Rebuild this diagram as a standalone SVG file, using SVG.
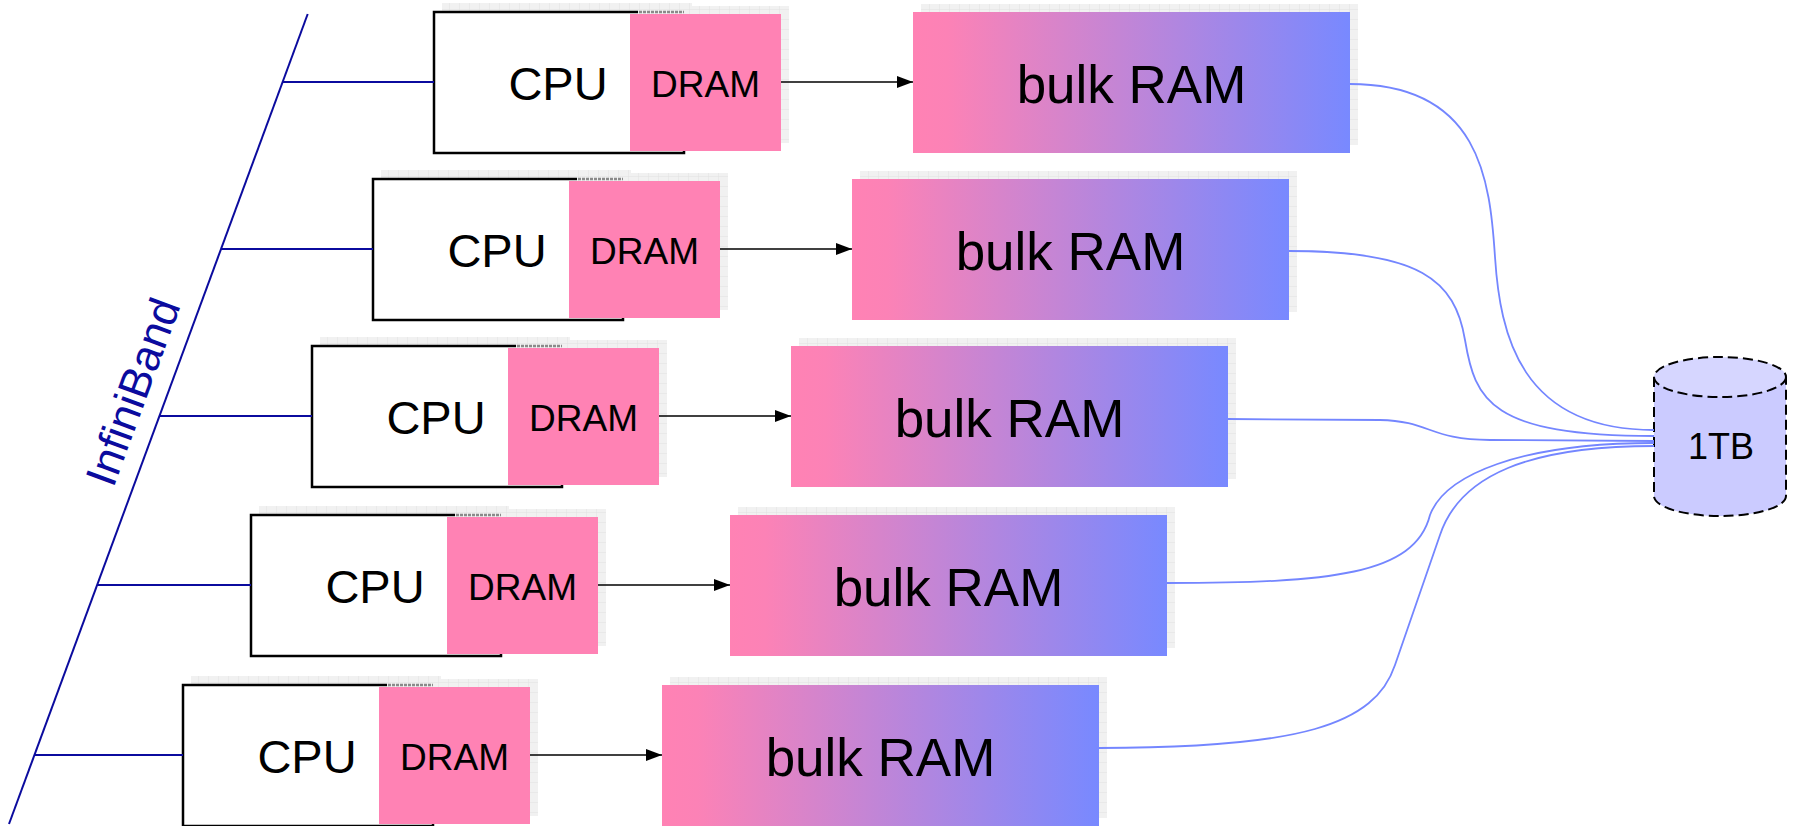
<svg xmlns="http://www.w3.org/2000/svg" width="1797" height="826" viewBox="0 0 1797 826">
<style>
.cpu{fill:#ffffff;stroke:#000000;stroke-width:2.5}
.dram{fill:#ff82b4}
.bulk{fill:url(#bulkGrad)}
.shadow{fill:url(#grid)}
.t{font-family:"Liberation Sans",Arial,sans-serif;fill:#000000;text-anchor:middle}
.cpuT{font-size:47px}
.dramT{font-size:37px}
.bulkT{font-size:53px}
.bus{stroke:#0b0b9e;stroke-width:2;fill:none}
.arrow{stroke:#000000;stroke-width:1.6;fill:none;marker-end:url(#ah)}
.curve{stroke:#7486ff;stroke-width:1.8;fill:none}
.seam{stroke:#8a8a8a;stroke-width:2.5;stroke-dasharray:3 1}
</style>
<defs>
<linearGradient id="bulkGrad" x1="0" y1="0" x2="1" y2="0">
<stop offset="0" stop-color="#ff82b4"/>
<stop offset="0.08" stop-color="#fc82b6"/>
<stop offset="1" stop-color="#7889ff"/>
</linearGradient>
<pattern id="grid" width="10" height="10" patternUnits="userSpaceOnUse">
<rect width="10" height="10" fill="#f1f1f1"/>
<path d="M10,0V10M0,10H10" stroke="#e2e2e2" stroke-width="1"/>
</pattern>
<marker id="ah" markerWidth="16" markerHeight="12" refX="16" refY="6" orient="auto" markerUnits="userSpaceOnUse">
<path d="M0,0L16,6L0,12Z" fill="#000000"/>
</marker>
</defs>

<g id="infiniband">
<line class="bus" x1="307.7" y1="14" x2="9" y2="824"/>
<text transform="translate(147,397) rotate(-69.76)" style="font-family:'Liberation Sans',Arial,sans-serif;font-size:44px;fill:#0b0b9e;text-anchor:middle">InfiniBand</text>
</g>

<g id="row1">
<g id="cpu1"><rect class="shadow" x="442" y="3" width="250" height="141"/><rect class="cpu" x="434" y="12" width="250" height="141"/><text class="t cpuT" x="558" y="100">CPU</text></g>
<g id="dram1"><rect class="shadow" x="638" y="6" width="151" height="137"/><line class="seam" x1="639" y1="12" x2="684" y2="12"/><rect class="dram" x="630" y="14" width="151" height="137"/><text class="t dramT" x="705.5" y="97">DRAM</text></g>
<g id="bulk1"><rect class="shadow" x="921" y="4" width="437" height="141"/><rect class="bulk" x="913" y="12" width="437" height="141"/><text class="t bulkT" x="1131.5" y="103">bulk RAM</text></g>
</g>

<g id="row2" transform="translate(-61,167)">
<g id="cpu2"><rect class="shadow" x="442" y="3" width="250" height="141"/><rect class="cpu" x="434" y="12" width="250" height="141"/><text class="t cpuT" x="558" y="100">CPU</text></g>
<g id="dram2"><rect class="shadow" x="638" y="6" width="151" height="137"/><line class="seam" x1="639" y1="12" x2="684" y2="12"/><rect class="dram" x="630" y="14" width="151" height="137"/><text class="t dramT" x="705.5" y="97">DRAM</text></g>
<g id="bulk2"><rect class="shadow" x="921" y="4" width="437" height="141"/><rect class="bulk" x="913" y="12" width="437" height="141"/><text class="t bulkT" x="1131.5" y="103">bulk RAM</text></g>
</g>

<g id="row3" transform="translate(-122,334)">
<g id="cpu3"><rect class="shadow" x="442" y="3" width="250" height="141"/><rect class="cpu" x="434" y="12" width="250" height="141"/><text class="t cpuT" x="558" y="100">CPU</text></g>
<g id="dram3"><rect class="shadow" x="638" y="6" width="151" height="137"/><line class="seam" x1="639" y1="12" x2="684" y2="12"/><rect class="dram" x="630" y="14" width="151" height="137"/><text class="t dramT" x="705.5" y="97">DRAM</text></g>
<g id="bulk3"><rect class="shadow" x="921" y="4" width="437" height="141"/><rect class="bulk" x="913" y="12" width="437" height="141"/><text class="t bulkT" x="1131.5" y="103">bulk RAM</text></g>
</g>

<g id="row4" transform="translate(-183,503)">
<g id="cpu4"><rect class="shadow" x="442" y="3" width="250" height="141"/><rect class="cpu" x="434" y="12" width="250" height="141"/><text class="t cpuT" x="558" y="100">CPU</text></g>
<g id="dram4"><rect class="shadow" x="638" y="6" width="151" height="137"/><line class="seam" x1="639" y1="12" x2="684" y2="12"/><rect class="dram" x="630" y="14" width="151" height="137"/><text class="t dramT" x="705.5" y="97">DRAM</text></g>
<g id="bulk4"><rect class="shadow" x="921" y="4" width="437" height="141"/><rect class="bulk" x="913" y="12" width="437" height="141"/><text class="t bulkT" x="1131.5" y="103">bulk RAM</text></g>
</g>

<g id="row5" transform="translate(-251,673)">
<g id="cpu5"><rect class="shadow" x="442" y="3" width="250" height="141"/><rect class="cpu" x="434" y="12" width="250" height="141"/><text class="t cpuT" x="558" y="100">CPU</text></g>
<g id="dram5"><rect class="shadow" x="638" y="6" width="151" height="137"/><line class="seam" x1="639" y1="12" x2="684" y2="12"/><rect class="dram" x="630" y="14" width="151" height="137"/><text class="t dramT" x="705.5" y="97">DRAM</text></g>
<g id="bulk5"><rect class="shadow" x="921" y="4" width="437" height="141"/><rect class="bulk" x="913" y="12" width="437" height="141"/><text class="t bulkT" x="1131.5" y="103">bulk RAM</text></g>
</g>

<g id="storage">
<path d="M1654,377 L1654,496 A66,20 0 0 0 1786,496 L1786,377 Z" fill="#cbcbff"/>
<ellipse cx="1720" cy="377" rx="66" ry="20" fill="#d6d6ff"/>
<path d="M1654,377 L1654,496 A66,20 0 0 0 1786,496 L1786,377" fill="none" stroke="#000000" stroke-width="2" stroke-dasharray="10 5"/>
<ellipse cx="1720" cy="377" rx="66" ry="20" fill="none" stroke="#000000" stroke-width="2" stroke-dasharray="10 5"/>
<text class="t" x="1721" y="459" style="font-size:36px">1TB</text>
</g>

<g id="connectors">
<line class="bus" x1="282.6" y1="82" x2="434" y2="82"/>
<line class="bus" x1="221" y1="249" x2="373" y2="249"/>
<line class="bus" x1="159.4" y1="416" x2="312" y2="416"/>
<line class="bus" x1="97.2" y1="585" x2="251" y2="585"/>
<line class="bus" x1="34.5" y1="755" x2="183" y2="755"/>

<line class="arrow" x1="781" y1="82" x2="913" y2="82"/>
<line class="arrow" x1="720" y1="249" x2="852" y2="249"/>
<line class="arrow" x1="659" y1="416" x2="791" y2="416"/>
<line class="arrow" x1="598" y1="585" x2="730" y2="585"/>
<line class="arrow" x1="530" y1="755" x2="662" y2="755"/>

<path class="curve" d="M1350,84 C1480,84 1490,180 1495,257 S1520,430 1654,430"/>
<path class="curve" d="M1289,251 C1420,251 1455,280 1465,340 C1475,400 1490,436 1654,436"/>
<path class="curve" d="M1228,419 L1380,420 C1430,421 1430,440 1490,440 L1654,441"/>
<path class="curve" d="M1167,583 C1330,583 1415,575 1430,515 C1445,475 1520,443 1654,443"/>
<path class="curve" d="M1099,748 C1300,748 1375,725 1395,665 L1440,535 C1460,475 1530,446 1654,446"/>
</g>
</svg>
